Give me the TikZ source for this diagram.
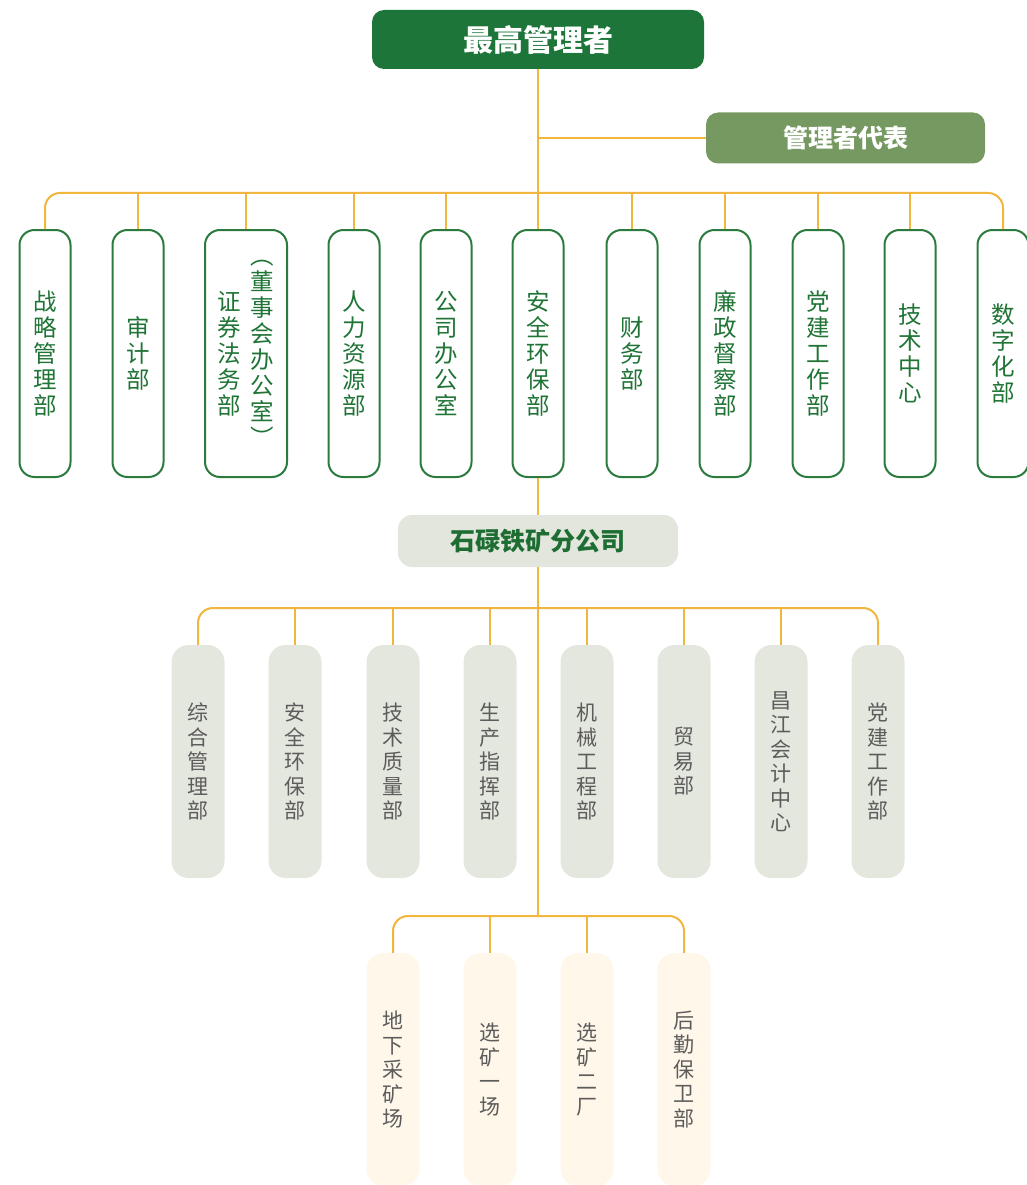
\documentclass[tikz,border=0pt]{standalone}
\usepackage{fontspec}
\setmainfont{Noto Sans CJK SC}
\definecolor{topG}{HTML}{1D7539}
\definecolor{repG}{HTML}{769962}
\definecolor{bordG}{HTML}{2B7B3F}
\definecolor{textG}{HTML}{1F7436}
\definecolor{subF}{HTML}{E3E6DC}
\definecolor{subT}{HTML}{1E6E34}
\definecolor{unitF}{HTML}{E4E7DE}
\definecolor{mineF}{HTML}{FFF7EA}
\definecolor{grayT}{HTML}{5C5C5C}
\definecolor{lineC}{HTML}{F1B63E}
\tikzset{
  conn/.style={draw=lineC, line width=2pt},
  topbox/.style={fill=topG, rounded corners=12pt, minimum width=332pt, minimum height=59pt, inner sep=0pt, text=white, font=\fontsize{30}{34}\selectfont\bfseries},
  repbox/.style={fill=repG, rounded corners=12pt, minimum width=279pt, minimum height=51pt, inner sep=0pt, text=white, font=\fontsize{25}{28}\selectfont\bfseries},
  deptbox/.style={draw=bordG, line width=2pt, fill=white, rounded corners=15pt, minimum width=51pt, minimum height=247pt, inner sep=0pt, text=textG, align=center, font=\fontsize{23.5}{26}\selectfont},
  depttext/.style={inner sep=0pt, text=textG, align=center, font=\fontsize{23.5}{26}\selectfont},
  subbox/.style={fill=subF, rounded corners=14pt, minimum width=280pt, minimum height=52pt, inner sep=0pt, text=subT, font=\fontsize{25}{28}\selectfont\bfseries},
  unitbox/.style={fill=unitF, rounded corners=17pt, minimum width=53pt, minimum height=233pt, inner sep=0pt, text=grayT, align=center, font=\fontsize{21}{24.5}\selectfont},
  minebox/.style={unitbox, fill=mineF},
}
\begin{document}
\begin{tikzpicture}[x=1pt, y=-1pt]
\useasboundingbox (0,0) rectangle (1027,1185);
% top level
\node[topbox] (top) at (538,39.5) {最高管理者};
\node[repbox] (rep) at (845.5,138) {管理者代表};
% departments
\node[deptbox] (d1) at (45,353.5) {战\\略\\管\\理\\部};
\node[deptbox] (d2) at (138,353.5) {审\\计\\部};
\node[deptbox, minimum width=82pt] (d3) at (246,353.5) {};
\node[depttext] (d3a) at (229.5,354) {证\\券\\法\\务\\部};
\node[depttext] (d3b) at (262.5,353.5) {︵\\董\\事\\会\\办\\公\\室\\︶};
\node[deptbox] (d4) at (354,353.5) {人\\力\\资\\源\\部};
\node[deptbox] (d5) at (446,353.5) {公\\司\\办\\公\\室};
\node[deptbox] (d6) at (538,353.5) {安\\全\\环\\保\\部};
\node[deptbox] (d7) at (632,353.5) {财\\务\\部};
\node[deptbox] (d8) at (725,353.5) {廉\\政\\督\\察\\部};
\node[deptbox] (d9) at (818,353.5) {党\\建\\工\\作\\部};
\node[deptbox] (d10) at (910,353.5) {技\\术\\中\\心};
\node[deptbox] (d11) at (1003,353.5) {数\\字\\化\\部};
% subsidiary
\node[subbox] (sub) at (538,541) {石碌铁矿分公司};
\node[unitbox] (s1) at (198,761.5) {综\\合\\管\\理\\部};
\node[unitbox] (s2) at (295,761.5) {安\\全\\环\\保\\部};
\node[unitbox] (s3) at (393,761.5) {技\\术\\质\\量\\部};
\node[unitbox] (s4) at (490,761.5) {生\\产\\指\\挥\\部};
\node[unitbox] (s5) at (587,761.5) {机\\械\\工\\程\\部};
\node[unitbox] (s6) at (684,761.5) {贸\\易\\部};
\node[unitbox] (s7) at (781,761.5) {昌\\江\\会\\计\\中\\心};
\node[unitbox] (s8) at (878,761.5) {党\\建\\工\\作\\部};
\node[minebox] (m1) at (393,1069.5) {地\\下\\采\\矿\\场};
\node[minebox] (m2) at (490,1069.5) {选\\矿\\一\\场};
\node[minebox] (m3) at (587,1069.5) {选\\矿\\二\\厂};
\node[minebox] (m4) at (684,1069.5) {后\\勤\\保\\卫\\部};
% bus coordinates
\coordinate (b1) at (538,193);
\coordinate (b2) at (538,608);
\coordinate (b3) at (538,916);
% connectors
\draw[conn] (top.south) -- (d6.north);
\draw[conn] (top.south |- rep.west) -- (rep.west);
\draw[conn] (d6.south) -- (sub.north);
\draw[conn] (sub.south) -- (b3);
\draw[conn, rounded corners=15pt] (d1.north) -- (d1.north |- b1) -- (d11.north |- b1) -- (d11.north);
\foreach \n in {d2,d3,d4,d5,d7,d8,d9,d10}
  \draw[conn] (\n.north |- b1) -- (\n.north);
\draw[conn, rounded corners=15pt] (s1.north) -- (s1.north |- b2) -- (s8.north |- b2) -- (s8.north);
\foreach \n in {s2,s3,s4,s5,s6,s7}
  \draw[conn] (\n.north |- b2) -- (\n.north);
\draw[conn, rounded corners=15pt] (m1.north) -- (m1.north |- b3) -- (m4.north |- b3) -- (m4.north);
\foreach \n in {m2,m3}
  \draw[conn] (\n.north |- b3) -- (\n.north);
\end{tikzpicture}
\end{document}
